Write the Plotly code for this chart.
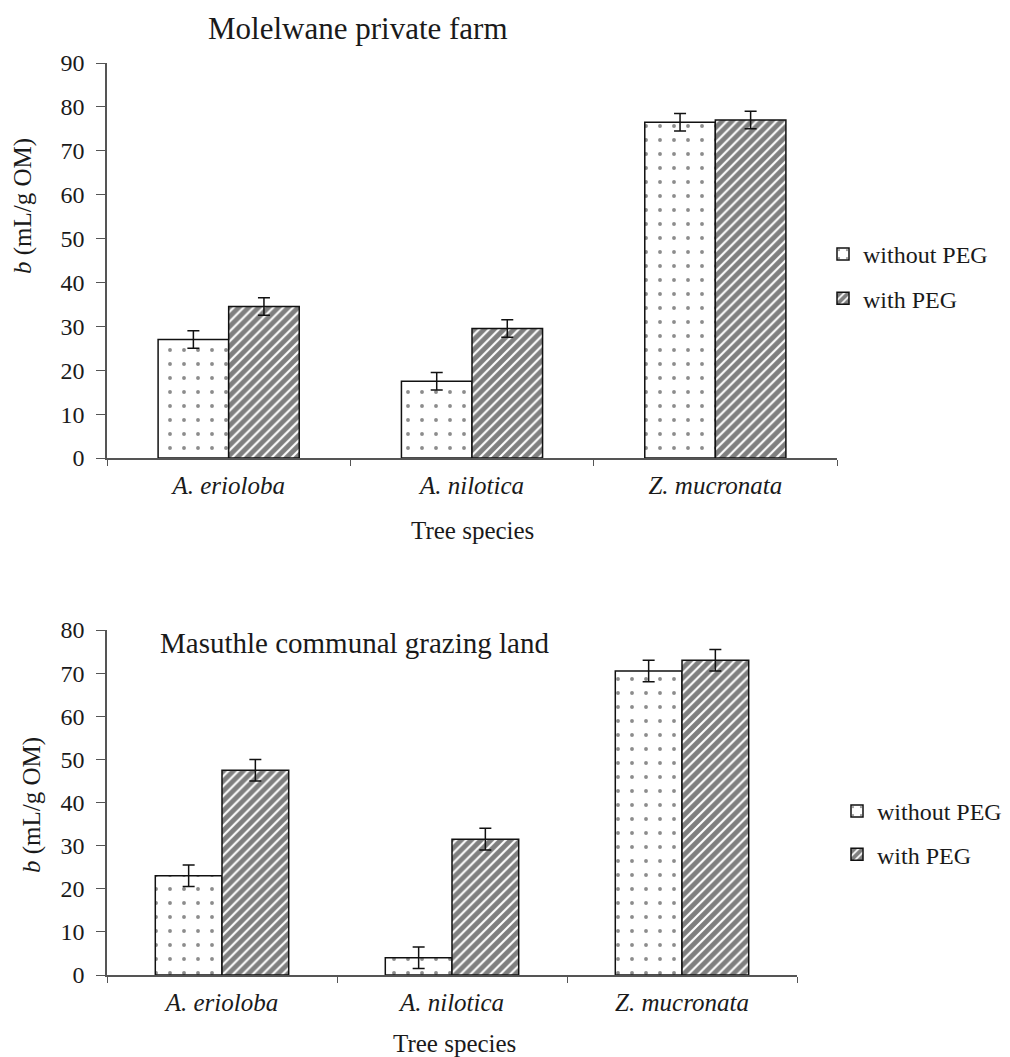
import plotly.graph_objects as go

species = ["A. erioloba", "A. nilotica", "Z. mucronata"]
species_labels = ["<i>A. erioloba</i>", "<i>A. nilotica</i>", "<i>Z. mucronata</i>"]
series_names = ["without PEG", "with PEG"]

top_without = [27.0, 17.5, 76.5]
top_without_err = [2.0, 2.0, 2.0]
top_with = [34.5, 29.5, 77.0]
top_with_err = [2.0, 2.0, 2.0]

bot_without = [23.0, 4.0, 70.5]
bot_without_err = [2.5, 2.5, 2.5]
bot_with = [47.5, 31.5, 73.0]
bot_with_err = [2.5, 2.5, 2.5]

top_title = "Molelwane private farm"
bot_title = "Masuthle communal grazing land"
x_title = "Tree species"
y_title = "<i>b</i> (mL/g OM)"

FONT = "Liberation Serif, Times New Roman, serif"
TXT = "#1a1a1a"

dots = dict(shape=".", fgcolor="#1a1a1a", bgcolor="white", size=14, solidity=0.06)
stripes = dict(shape="/", fgcolor="#000000", bgcolor="white", size=7, solidity=0.7)

fig = go.Figure()

def add_pair(xa, ya, w, we, p, pe, legend):
    fig.add_trace(go.Bar(
        x=species_labels, y=w, name=series_names[0], xaxis=xa, yaxis=ya,
        marker=dict(color="white", pattern=dots, line=dict(color="#111111", width=1.5)),
        error_y=dict(type="data", array=we, color="#111111", thickness=1.5, width=6),
        legend=legend, legendgroup=legend + "a"))
    fig.add_trace(go.Bar(
        x=species_labels, y=p, name=series_names[1], xaxis=xa, yaxis=ya,
        marker=dict(color="white", pattern=stripes, line=dict(color="#111111", width=1.5)),
        error_y=dict(type="data", array=pe, color="#111111", thickness=1.5, width=6),
        legend=legend, legendgroup=legend + "b"))

add_pair("x", "y", top_without, top_without_err, top_with, top_with_err, "legend")
add_pair("x2", "y2", bot_without, bot_without_err, bot_with, bot_with_err, "legend2")

W, H = 1010, 1057

def px(x):
    return x / W

def py(y):
    return 1 - y / H

ytickfont = dict(family=FONT, size=24, color=TXT)
xtickfont = dict(family=FONT, size=25, color=TXT)

def xaxis(x0, x1, anchor):
    return dict(domain=[px(x0), px(x1)], anchor=anchor, showline=True, linecolor="#555555",
                linewidth=1.5, ticks="outside", tickson="boundaries", ticklen=6,
                tickcolor="#555555", tickfont=xtickfont, showgrid=False, zeroline=False,
                automargin=False, ticklabelstandoff=4)

def yaxis(y0, y1, anchor, rmax):
    return dict(domain=[py(y1), py(y0)], anchor=anchor, range=[0, rmax], dtick=10,
                showline=True, linecolor="#555555", linewidth=1.5, ticks="outside",
                ticklen=9, tickcolor="#555555", tickfont=ytickfont, showgrid=False,
                zeroline=False, automargin=False, ticklabelstandoff=7)

def ann(text, x, y, size, angle=0, xanchor="center"):
    return dict(text=text, x=px(x), y=py(y), xref="paper", yref="paper",
                xanchor=xanchor, yanchor="middle", showarrow=False, textangle=angle,
                font=dict(family=FONT, size=size, color=TXT))

legfont = dict(family=FONT, size=24, color=TXT)

fig.update_layout(
    width=W, height=H,
    margin=dict(l=0, r=0, t=0, b=0, autoexpand=False),
    paper_bgcolor="white", plot_bgcolor="white",
    barmode="group", bargap=0.42, bargroupgap=0,
    font=dict(family=FONT, size=24, color=TXT),
    xaxis=xaxis(107, 837, "y"),
    yaxis=yaxis(63, 458, "x", 90),
    xaxis2=xaxis(107, 797, "y2"),
    yaxis2=yaxis(630, 975, "x2", 80),
    legend=dict(x=px(823), y=py(232), xanchor="left", yanchor="top", font=legfont,
                bgcolor="rgba(0,0,0,0)", itemwidth=30, tracegroupgap=10),
    legend2=dict(x=px(837), y=py(789), xanchor="left", yanchor="top", font=legfont,
                 bgcolor="rgba(0,0,0,0)", itemwidth=30, tracegroupgap=9),
    annotations=[
        ann(top_title, 206, 28, 31, xanchor="left"),
        ann(bot_title, 158, 643, 29, xanchor="left"),
        ann(x_title, 472, 530, 25),
        ann(x_title, 454, 1043, 25),
        ann(y_title, 23, 206, 25, -90),
        ann(y_title, 32, 805, 25, -90),
    ],
)

fig.write_html("out.html", config={"displayModeBar": False},
               post_script="document.body.style.margin='0px';")
